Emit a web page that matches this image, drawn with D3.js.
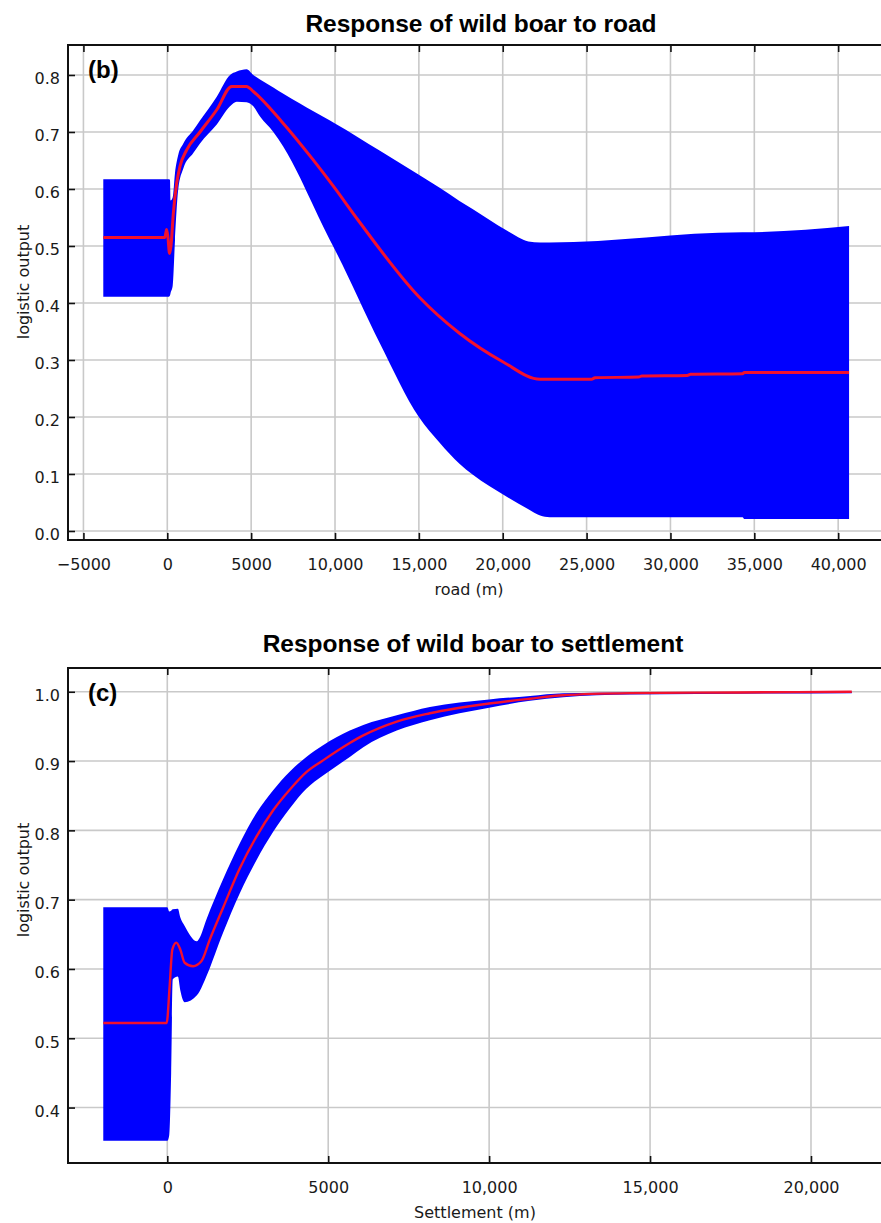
<!DOCTYPE html>
<html>
<head>
<meta charset="utf-8">
<script src="https://cdn.jsdelivr.net/npm/d3@7"></script>
<style>
  body { margin: 0; background: #fff; }
  svg { display: block; }
  .tick text { font-family: "DejaVu Sans", sans-serif; font-size: 16px; fill: #1a1a1a; }
  .tick line { stroke: #111; stroke-width: 1.6px; }
</style>
</head>
<body>
<svg id="fig" width="881" height="1223"></svg>
<script>
// --- road panel (b) ---
var roadXTicks = [-5000, 0, 5000, 10000, 15000, 20000, 25000, 30000, 35000, 40000];
var roadXTickLabels = ["\u22125000", "0", "5000", "10,000", "15,000", "20,000", "25,000", "30,000", "35,000", "40,000"];
var roadYTicks = [0, 0.1, 0.2, 0.3, 0.4, 0.5, 0.6, 0.7, 0.8];
var roadYTickLabels = ["0.0", "0.1", "0.2", "0.3", "0.4", "0.5", "0.6", "0.7", "0.8"];

var roadBandX    = [-3816, 100, 160, 200, 320, 460, 655, 955, 1550, 1950, 2950, 3740, 4140, 4730, 5130, 5530, 6320, 6920, 7910, 8310, 9700, 10000, 12680, 15000, 16240, 17420, 18200, 20240, 21530, 22230, 22800, 34300, 34400, 40650];
var roadBandLow  = [0.411, 0.411, 0.413, 0.418, 0.430, 0.510, 0.600, 0.636, 0.663, 0.680, 0.713, 0.745, 0.753, 0.752, 0.745, 0.727, 0.700, 0.674, 0.620, 0.595, 0.510, 0.493, 0.329, 0.200, 0.155, 0.118, 0.099, 0.060, 0.038, 0.027, 0.024, 0.024, 0.021, 0.021];
var roadBandHigh = [0.617, 0.617, 0.616, 0.580, 0.585, 0.628, 0.660, 0.680, 0.703, 0.720, 0.762, 0.800, 0.806, 0.810, 0.800, 0.792, 0.778, 0.767, 0.750, 0.743, 0.720, 0.715, 0.667, 0.625, 0.602, 0.579, 0.565, 0.527, 0.508, 0.506, 0.506, 0.524, 0.524, 0.535];

var roadMeanX = [-3816, -150, -40, 40, 130, 220, 360, 560, 760, 1150, 1950, 2950, 3840, 4730, 5130, 6800, 8700, 10000, 11360, 15000, 17420, 20000, 22230, 25300, 25500, 28100, 28300, 31000, 31200, 34300, 34400, 40650];
var roadMeanY = [0.515, 0.515, 0.529, 0.515, 0.487, 0.500, 0.557, 0.610, 0.640, 0.668, 0.700, 0.739, 0.780, 0.780, 0.771, 0.719, 0.651, 0.601, 0.546, 0.411, 0.347, 0.297, 0.266, 0.266, 0.269, 0.270, 0.272, 0.273, 0.275, 0.276, 0.278, 0.278];

// --- settlement panel (c) ---
var settXTicks = [0, 5000, 10000, 15000, 20000];
var settXTickLabels = ["0", "5000", "10,000", "15,000", "20,000"];
var settYTicks = [0.4, 0.5, 0.6, 0.7, 0.8, 0.9, 1.0];
var settYTickLabels = ["0.4", "0.5", "0.6", "0.7", "0.8", "0.9", "1.0"];

var settBandX    = [-1989, 0, 60, 120, 170, 330, 400, 540, 920, 1006, 1213, 1730, 2250, 2770, 3290, 3810, 4320, 4840, 5670, 6090, 7130, 8160, 10000, 11270, 12300, 14380, 21268];
var settBandLow  = [0.352, 0.352, 0.360, 0.450, 0.585, 0.589, 0.570, 0.552, 0.562, 0.568, 0.589, 0.652, 0.709, 0.757, 0.798, 0.832, 0.860, 0.879, 0.906, 0.920, 0.944, 0.959, 0.977, 0.987, 0.992, 0.996, 0.998];
var settBandHigh = [0.689, 0.689, 0.683, 0.684, 0.686, 0.687, 0.675, 0.662, 0.640, 0.645, 0.671, 0.729, 0.781, 0.825, 0.858, 0.885, 0.906, 0.923, 0.944, 0.952, 0.966, 0.978, 0.989, 0.994, 0.998, 0.999, 1.000];

var settMeanX = [-1989, -20, 73, 156, 280, 404, 540, 800, 1058, 1317, 1730, 2250, 2770, 3290, 3810, 4320, 4840, 5670, 6090, 7130, 8160, 10000, 11270, 12300, 14380, 17700, 21268];
var settMeanY = [0.522, 0.522, 0.575, 0.628, 0.638, 0.628, 0.609, 0.604, 0.611, 0.642, 0.688, 0.745, 0.791, 0.829, 0.859, 0.884, 0.901, 0.926, 0.937, 0.957, 0.969, 0.983, 0.990, 0.995, 0.998, 0.999, 1.000];

var svg = d3.select("#fig");

function panel(cfg) {
    var x = d3.scaleLinear().domain(cfg.xDomain).range([cfg.left, cfg.right]),
        y = d3.scaleLinear().domain(cfg.yDomain).range([cfg.bottom, cfg.top]),
        g = svg.append("g");

    // grid
    g.append("g").selectAll("line").data(cfg.xTicks).join("line")
        .attr("x1", d => x(d)).attr("x2", d => x(d))
        .attr("y1", cfg.top).attr("y2", cfg.bottom)
        .attr("stroke", "#c9c9c9").attr("stroke-width", 1.6);
    g.append("g").selectAll("line").data(cfg.yTicks).join("line")
        .attr("x1", cfg.left).attr("x2", cfg.right)
        .attr("y1", d => y(d)).attr("y2", d => y(d))
        .attr("stroke", "#c9c9c9").attr("stroke-width", 1.6);

    var band = cfg.bandX.map((v, i) => ({x: v, lo: cfg.bandLow[i], hi: cfg.bandHigh[i]}));
    var mean = cfg.meanX.map((v, i) => ({x: v, y: cfg.meanY[i]}));

    g.append("path").datum(band)
        .attr("fill", "#0000ff")
        .attr("d", d3.area().x(d => x(d.x)).y0(d => y(d.lo)).y1(d => y(d.hi)).curve(d3.curveMonotoneX));

    g.append("path").datum(mean)
        .attr("fill", "none").attr("stroke", "#f2102e")
        .attr("stroke-width", cfg.lineWidth).attr("stroke-linejoin", "round")
        .attr("d", d3.line().x(d => x(d.x)).y(d => y(d.y)).curve(d3.curveMonotoneX));

    // axes, ticks pointing inward
    var bottomAxis = g.append("g").attr("transform", "translate(0," + cfg.bottom + ")")
        .call(d3.axisBottom(x).tickValues(cfg.xTicks).tickFormat((d, i) => cfg.xTickLabels[i])
            .tickSize(-7).tickSizeOuter(0).tickPadding(19));
    var topAxis = g.append("g").attr("transform", "translate(0," + cfg.top + ")")
        .call(d3.axisTop(x).tickValues(cfg.xTicks).tickFormat("").tickSize(-7).tickSizeOuter(0));
    var leftAxis = g.append("g").attr("transform", "translate(" + cfg.left + ",0)")
        .call(d3.axisLeft(y).tickValues(cfg.yTicks).tickFormat((d, i) => cfg.yTickLabels[i])
            .tickSize(-7).tickSizeOuter(0).tickPadding(8));
    leftAxis.selectAll("text").attr("dy", "0.55em");
    [bottomAxis, topAxis, leftAxis].forEach(a => a.select(".domain").remove());

    g.append("rect")
        .attr("x", cfg.left).attr("y", cfg.top)
        .attr("width", cfg.right - cfg.left).attr("height", cfg.bottom - cfg.top)
        .attr("fill", "none").attr("stroke", "#111").attr("stroke-width", 2);

    g.append("text")
        .attr("x", cfg.titleX).attr("y", cfg.titleY)
        .attr("text-anchor", "middle")
        .style("font-family", "'Liberation Sans', Arial, sans-serif")
        .style("font-weight", "bold").style("font-size", "24.5px")
        .text(cfg.title);

    g.append("text")
        .attr("x", cfg.left + 20).attr("y", cfg.top + 33)
        .style("font-family", "'Liberation Sans', Arial, sans-serif")
        .style("font-weight", "bold").style("font-size", "24px")
        .text(cfg.panelTag);

    g.append("text")
        .attr("x", cfg.xLabelX).attr("y", cfg.xLabelY)
        .attr("text-anchor", "middle")
        .style("font-family", "'DejaVu Sans', sans-serif").style("font-size", "16px")
        .attr("fill", "#1a1a1a")
        .text(cfg.xLabel);

    g.append("text")
        .attr("transform", "translate(29," + cfg.yLabelY + ") rotate(-90)")
        .attr("text-anchor", "middle")
        .style("font-family", "'DejaVu Sans', sans-serif").style("font-size", "16px")
        .attr("fill", "#1a1a1a")
        .text("logistic output");
}

panel({
    left: 68, right: 890, top: 45, bottom: 540,
    xDomain: [-5920, 43090], yDomain: [-0.0158, 0.8526],
    xTicks: roadXTicks, xTickLabels: roadXTickLabels,
    yTicks: roadYTicks, yTickLabels: roadYTickLabels,
    bandX: roadBandX, bandLow: roadBandLow, bandHigh: roadBandHigh,
    meanX: roadMeanX, meanY: roadMeanY, lineWidth: 3,
    title: "Response of wild boar to road", titleX: 481, titleY: 32,
    panelTag: "(b)",
    xLabel: "road (m)", xLabelX: 469, xLabelY: 595,
    yLabelY: 282
});

panel({
    left: 68, right: 890, top: 668, bottom: 1163,
    xDomain: [-3085, 22455], yDomain: [0.320, 1.0343],
    xTicks: settXTicks, xTickLabels: settXTickLabels,
    yTicks: settYTicks, yTickLabels: settYTickLabels,
    bandX: settBandX, bandLow: settBandLow, bandHigh: settBandHigh,
    meanX: settMeanX, meanY: settMeanY, lineWidth: 2.4,
    title: "Response of wild boar to settlement", titleX: 473, titleY: 652,
    panelTag: "(c)",
    xLabel: "Settlement (m)", xLabelX: 475, xLabelY: 1218,
    yLabelY: 880
});
</script>
</body>
</html>
